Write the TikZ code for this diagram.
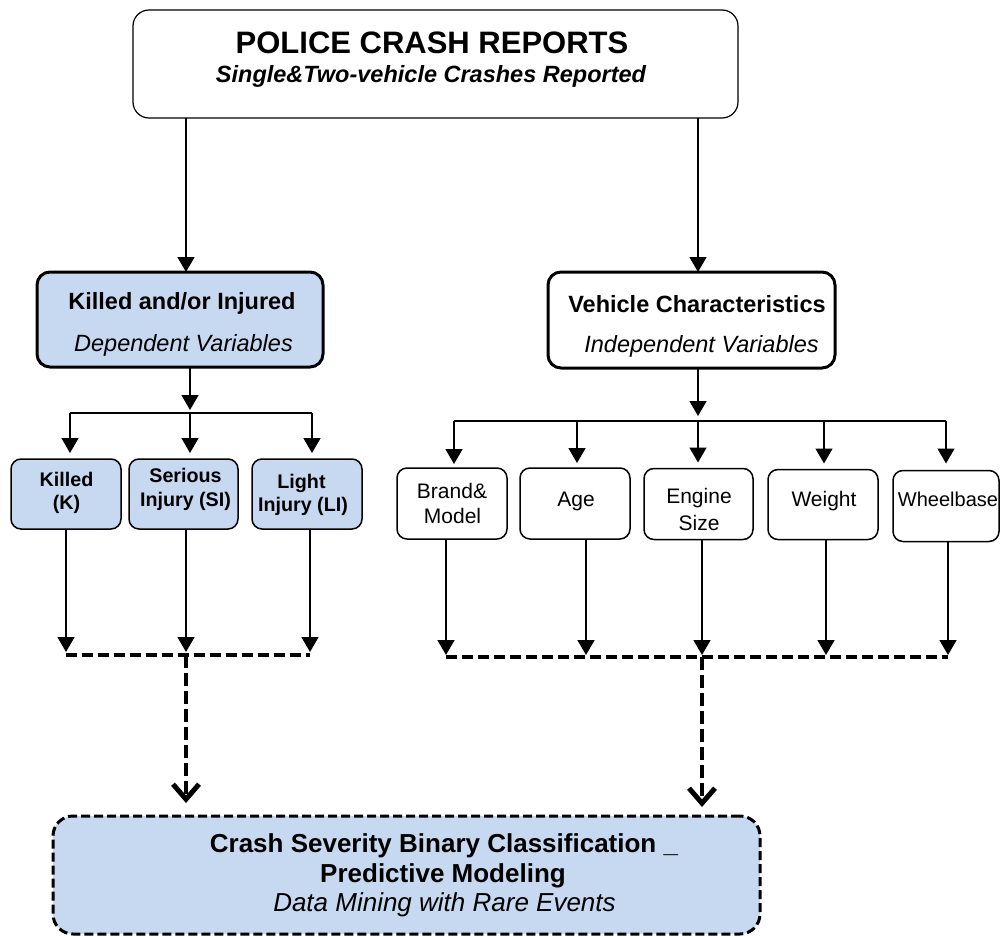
\documentclass[tikz,border=0pt]{standalone}
\usepackage{fontspec}
\setmainfont{Liberation Sans}
\usetikzlibrary{arrows.meta}
\definecolor{paleblue}{HTML}{C6D9F1}

\begin{document}
\begin{tikzpicture}[x=1pt,y=-1pt,
  topbox/.style={draw, line width=1.2pt, rounded corners=16pt, fill=white, inner sep=0pt, outer sep=0pt},
  midbox/.style={draw, line width=3pt, rounded corners=13pt, inner sep=0pt, outer sep=0pt},
  smallbox/.style={draw, line width=1.5pt, rounded corners=10pt, inner sep=0pt, outer sep=0pt},
  endbox/.style={draw, line width=3pt, dash pattern=on 9pt off 4pt, rounded corners=20pt, fill=paleblue, inner sep=0pt, outer sep=0pt},
  link/.style={line width=1.5pt, -{Triangle[length=15pt,width=17pt]}},
  bar/.style={line width=1.5pt},
  dbar/.style={line width=4pt, dash pattern=on 11pt off 5pt},
  dlink/.style={line width=4.5pt, dash pattern=on 13pt off 5pt, -{Straight Barb[length=15pt,width=26pt,line width=5pt]}},
  lbl/.style={anchor=base, inner sep=0pt, outer sep=0pt},
  fT/.style={font=\fontsize{31}{31}\selectfont\bfseries},
  fS/.style={font=\fontsize{23.5}{23.5}\selectfont\bfseries\itshape},
  fM/.style={font=\fontsize{23.5}{23.5}\selectfont\bfseries},
  fMi/.style={font=\fontsize{23.5}{23.5}\selectfont\itshape},
  fK/.style={font=\fontsize{19.7}{19.7}\selectfont\bfseries},
  fV/.style={font=\fontsize{21}{21}\selectfont},
  fB/.style={font=\fontsize{26}{26}\selectfont\bfseries},
  fBi/.style={font=\fontsize{26}{26}\selectfont\itshape}]

\useasboundingbox (0,0) rectangle (1001,936);

% ---------- source ----------
\node[topbox, minimum width=605pt, minimum height=108pt] (top) at (435.5,64) {};
\node[lbl, fT] (topT) at (432,54) {POLICE CRASH REPORTS};
\node[lbl, fS] (topS) at (431,83) {Single\&Two-vehicle Crashes Reported};

% ---------- dependent / independent variables ----------
\node[midbox, fill=paleblue, minimum width=286pt, minimum height=95pt] (dep) at (180,319.5) {};
\node[lbl, fM] (depT) at (182,309) {Killed and/or Injured};
\node[lbl, fMi] (depS) at (183.5,351) {Dependent Variables};

\node[midbox, fill=white, minimum width=287pt, minimum height=96pt] (ind) at (691.5,320) {};
\node[lbl, fM] (indT) at (697,312) {Vehicle Characteristics};
\node[lbl, fMi] (indS) at (701.5,352) {Independent Variables};

\coordinate (xL) at (186,0);
\coordinate (xR) at (698,0);
\draw[link] (top.south -| xL) -- (dep.north -| xL);
\draw[link] (top.south -| xR) -- (ind.north -| xR);

% ---------- severity classes ----------
\node[smallbox, fill=paleblue, minimum width=110pt, minimum height=70pt] (k) at (66,494) {};
\node[smallbox, fill=paleblue, minimum width=109pt, minimum height=70pt] (si) at (183.5,494) {};
\node[smallbox, fill=paleblue, minimum width=110pt, minimum height=70pt] (li) at (307,494) {};
\node[lbl, fK] (kA) at (66.5,486) {Killed};
\node[lbl, fK] (kB) at (66.5,509) {(K)};
\node[lbl, fK] (siA) at (185.5,482) {Serious};
\node[lbl, fK] (siB) at (185.5,506) {Injury (SI)};
\node[lbl, fK] (liA) at (301.5,488) {Light};
\node[lbl, fK] (liB) at (303,511) {Injury (LI)};

\coordinate (lb1) at (70,413);
\coordinate (lb2) at (190,413);
\coordinate (lb3) at (312,413);
\draw[link, shorten >=3pt] (dep.south -| lb2) -- (lb2);
\draw[bar] (lb1) -- (lb3);
\draw[link, shorten >=6pt] (lb1) -- (k.north -| lb1);
\draw[link, shorten >=6pt] (lb2) -- (si.north -| lb2);
\draw[link, shorten >=6pt] (lb3) -- (li.north -| lb3);

\coordinate (ld1) at (66,655);
\coordinate (ld2) at (186,655);
\coordinate (ld3) at (310,655);
\draw[link, shorten >=3pt] (k.south -| ld1) -- (ld1);
\draw[link, shorten >=3pt] (si.south -| ld2) -- (ld2);
\draw[link, shorten >=3pt] (li.south -| ld3) -- (ld3);
\draw[dbar] (ld1) -- (ld3);

% ---------- vehicle attributes ----------
\node[smallbox, minimum width=110pt, minimum height=71pt] (brand) at (452,503.5) {};
\node[smallbox, minimum width=110pt, minimum height=71pt] (age) at (575,503.5) {};
\node[smallbox, minimum width=109pt, minimum height=71pt] (eng) at (698.5,504) {};
\node[smallbox, minimum width=110pt, minimum height=70pt] (wgt) at (823,504.5) {};
\node[smallbox, minimum width=106pt, minimum height=71pt] (wb) at (946,506) {};
\node[lbl, fV] (brandA) at (452,498) {Brand\&};
\node[lbl, fV] (brandB) at (452.5,523) {Model};
\node[lbl, fV] (ageA) at (576,506) {Age};
\node[lbl, fV] (engA) at (699,503) {Engine};
\node[lbl, fV] (engB) at (699,530) {Size};
\node[lbl, fV] (wgtA) at (824,506) {Weight};
\node[lbl, fV, font=\fontsize{20}{20}\selectfont] (wbA) at (948,506) {Wheelbase};

\coordinate (rb1) at (454,421);
\coordinate (rb2) at (577,421);
\coordinate (rb3) at (698,421);
\coordinate (rb4) at (824,421);
\coordinate (rb5) at (946,421);
\draw[link, shorten >=5pt] (ind.south -| rb3) -- (rb3);
\draw[bar] (rb1) -- (rb5);
\draw[link, shorten >=4pt] (rb1) -- (brand.north -| rb1);
\draw[link, shorten >=5pt] (rb2) -- (age.north -| rb2);
\draw[link, shorten >=6pt] (rb3) -- (eng.north -| rb3);
\draw[link, shorten >=6pt] (rb4) -- (wgt.north -| rb4);
\draw[link, shorten >=7pt] (rb5) -- (wb.north -| rb5);

\coordinate (rd1) at (446,657);
\coordinate (rd2) at (586,657);
\coordinate (rd3) at (702,657);
\coordinate (rd4) at (826,657);
\coordinate (rd5) at (948,657);
\draw[link, shorten >=2pt] (brand.south -| rd1) -- (rd1);
\draw[link, shorten >=2pt] (age.south -| rd2) -- (rd2);
\draw[link, shorten >=2pt] (eng.south -| rd3) -- (rd3);
\draw[link, shorten >=2pt] (wgt.south -| rd4) -- (rd4);
\draw[link, shorten >=2pt] (wb.south -| rd5) -- (rd5);
\draw[dbar] (rd1) -- (rd5);

% ---------- outcome ----------
\node[endbox, minimum width=707pt, minimum height=118pt] (res) at (406.5,875) {};
\node[lbl, fB] (resA) at (444,852) {Crash Severity Binary Classification \_};
\node[lbl, fB] (resB) at (443,882) {Predictive Modeling};
\node[lbl, fBi] (resC) at (444.5,911) {Data Mining with Rare Events};

\draw[dlink, shorten >=13pt] (ld2) -- (res.north -| ld2);
\draw[dlink, shorten >=9pt] (rd3) -- (res.north -| rd3);

\end{tikzpicture}
\end{document}
